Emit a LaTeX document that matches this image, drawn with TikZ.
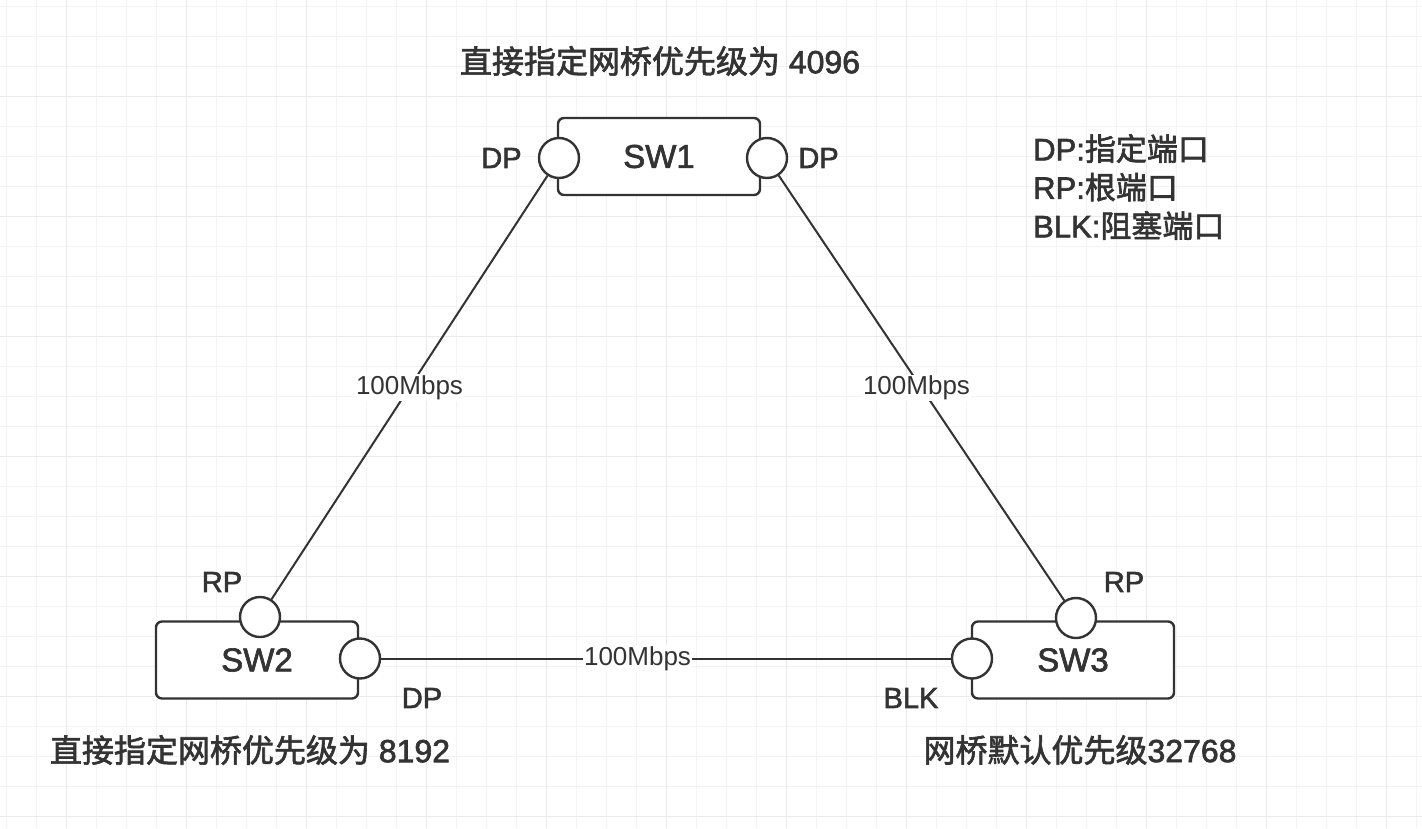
\documentclass[tikz,border=0pt]{standalone}
\usepackage{fontspec}
\setmainfont{Liberation Sans}[FakeBold=2]
\newfontfamily\cjk{Noto Sans CJK SC}[FakeBold=2]
\newfontfamily\ratefont{Liberation Sans}
\usetikzlibrary{positioning}
\definecolor{SWInk}{HTML}{333333}
\definecolor{SWGridMinor}{HTML}{F3F3F3}
\definecolor{SWGridMajor}{HTML}{EAEAEA}

\begin{document}
\begin{tikzpicture}[x=1pt,y=-1pt,node distance=10pt]
  \tikzstyle{swbox}=[draw=SWInk,line width=2.4pt,rounded corners=6pt,fill=white,
    minimum width=202pt,minimum height=77pt,text=SWInk,
    font=\fontsize{33}{38}\selectfont]
  \tikzstyle{port}=[circle,draw=SWInk,line width=2.4pt,fill=white,
    minimum size=40pt,inner sep=0pt]
  \tikzstyle{plbl}=[inner sep=0pt,text=SWInk,font=\fontsize{29}{34}\selectfont]
  \tikzstyle{prio}=[inner sep=0pt,text=SWInk,font=\fontsize{32}{36}\selectfont]
  \tikzstyle{link}=[draw=SWInk,line width=2pt]
  \tikzstyle{rate}=[fill=white,inner sep=1pt,text=SWInk,
    font=\ratefont\fontsize{26}{30}\selectfont]
  \tikzstyle{note}=[inner sep=0pt,text=SWInk,align=left,
    font=\fontsize{31}{38.5}\selectfont]
  % background grid
  \useasboundingbox (0,0) rectangle (1422,828);
  \fill[white] (0,0) rectangle (1422,828);
  \foreach \gx in {6.7,36.7,...,1422}
    \draw[SWGridMinor,line width=1.2pt] (\gx,0) -- (\gx,828);
  \foreach \gy in {6.7,36.7,...,828}
    \draw[SWGridMinor,line width=1.2pt] (0,\gy) -- (1422,\gy);
  \foreach \gx in {66.7,186.7,...,1422}
    \draw[SWGridMajor,line width=1.5pt] (\gx,0) -- (\gx,828);
  \foreach \gy in {96.7,216.7,...,828}
    \draw[SWGridMajor,line width=1.5pt] (0,\gy) -- (1422,\gy);
  % switches
  \node[swbox] (sw1) at (659,156.5) {SW1};
  \node[swbox] (sw2) at (257,660) {SW2};
  \node[swbox] (sw3) at (1073,660) {SW3};
  % ports
  \node[port] (sw1dpl) at (559,158) {};
  \node[port] (sw1dpr) at (767,158) {};
  \node[port] (sw2rp) at (260,617) {};
  \node[port] (sw2dp) at (360,658.5) {};
  \node[port] (sw3rp) at (1076,618) {};
  \node[port] (sw3blk) at (972,658.5) {};
  % links
  \draw[link] (sw1dpl) -- node[rate]{100Mbps} (sw2rp);
  \draw[link] (sw1dpr) -- node[rate,pos=0.5,xshift=-5pt]{100Mbps} (sw3rp);
  \draw[link] (sw2dp) -- node[rate,pos=0.45]{100Mbps} (sw3blk);
  % port roles
  \node[plbl,left=16pt of sw1dpl] (lbl1l) {DP};
  \node[plbl,right=10pt of sw1dpr] (lbl1r) {DP};
  \node[plbl] (lbl2t) at (222,582) {RP};
  \node[plbl] (lbl2r) at (422,698) {DP};
  \node[plbl] (lbl3t) at (1124,582) {RP};
  \node[plbl] (lbl3l) at (911,698) {BLK};
  % priorities and legend
  \node[prio] (prio1) at (660,61) {{\cjk 直接指定网桥优先级为} 4096};
  \node[prio] (prio2) at (250,750) {{\cjk 直接指定网桥优先级为} 8192};
  \node[prio] (prio3) at (1080,750) {{\cjk 网桥默认优先级}32768};
  \node[note,anchor=west] (legend) at (1033,187)
    {DP:{\cjk 指定端口}\\RP:{\cjk 根端口}\\BLK:{\cjk 阻塞端口}};
\end{tikzpicture}
\end{document}
